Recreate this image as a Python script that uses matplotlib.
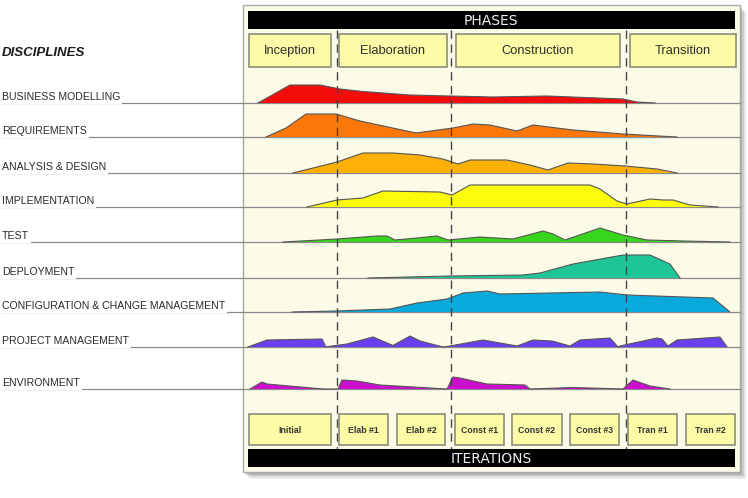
import matplotlib
matplotlib.use("Agg")
import matplotlib.pyplot as plt
from matplotlib.patches import Rectangle

plt.rcParams["font.family"] = ["Liberation Sans", "DejaVu Sans"]

# disciplines (rows) and their effort profiles: x position along the lifecycle, hump height
disciplines = [
    "BUSINESS MODELLING", "REQUIREMENTS", "ANALYSIS & DESIGN", "IMPLEMENTATION",
    "TEST", "DEPLOYMENT", "CONFIGURATION & CHANGE MANAGEMENT",
    "PROJECT MANAGEMENT", "ENVIRONMENT",
]

bm_x = [258, 290, 320, 340, 363, 410, 450, 493, 547, 623, 637, 655]
bm_h = [0, 18, 18, 14, 11.5, 8, 7, 6, 7, 4, 1, 0]

req_x = [266, 286, 306, 336, 360, 416, 453, 473, 490, 517, 533, 573, 623, 677]
req_h = [0, 9, 23, 23, 16, 4, 9, 13, 12, 6, 12, 7, 3, 0]

ad_x = [293, 337, 363, 393, 420, 443, 458, 470, 507, 530, 548, 568, 593, 625, 657, 677]
ad_h = [0, 11, 20, 20, 18, 14, 9, 13, 13, 8, 3, 10, 9, 7, 4, 0]

impl_x = [307, 337, 363, 383, 440, 452, 470, 590, 600, 617, 627, 650, 663, 673, 690, 718]
impl_h = [0, 7, 9, 16, 15, 12, 22, 22, 18, 6, 3, 8, 7, 7, 2, 0]

test_x = [283, 337, 377, 387, 395, 417, 437, 448, 480, 513, 543, 553, 565, 600, 623, 647, 683, 730]
test_h = [0, 3, 6, 6, 2, 4, 6, 2, 5, 3, 11, 8, 2, 14, 7, 2, 1, 0]

dep_x = [368, 450, 523, 540, 573, 623, 650, 670, 680]
dep_h = [0, 2, 3, 5, 14, 23, 23, 14, 0]

ccm_x = [292, 337, 390, 417, 447, 463, 487, 500, 600, 627, 713, 730]
ccm_h = [0, 1, 3, 9, 13, 19, 21, 18, 20, 17, 14, 0]

pm_x = [248, 267, 322, 326, 332, 347, 373, 393, 410, 420, 443, 450, 483, 517, 533, 552,
        570, 580, 610, 618, 620, 657, 662, 668, 677, 720, 727]
pm_h = [0, 7, 8, 0, 1, 3, 10, 1.5, 11, 6, 0, 1, 7, 1, 7, 6,
        1, 7, 9, 0, 1, 9, 8, 1, 7, 10, 0]

env_x = [250, 262, 267, 323, 338, 342, 357, 380, 447, 453, 460, 487, 525, 530, 573,
         623, 633, 650, 670]
env_h = [0, 7, 5, 0, 0, 9, 8, 4, 0, 12, 11, 5, 4, 0, 1.5, 0, 9, 3, 0]

profiles_x = [bm_x, req_x, ad_x, impl_x, test_x, dep_x, ccm_x, pm_x, env_x]
profiles_h = [bm_h, req_h, ad_h, impl_h, test_h, dep_h, ccm_h, pm_h, env_h]

phases = ["Inception", "Elaboration", "Construction", "Transition"]
iterations = ["Initial", "Elab #1", "Elab #2", "Const #1", "Const #2", "Const #3",
              "Tran #1", "Tran #2"]

# layout (pixel space of the 748x498 image)
baselines = [103, 137, 173, 207, 242, 278, 312, 347, 389]
colors = ["#f20d0d", "#fb7708", "#fdb106", "#fcfc0a", "#37d61c", "#1fc597",
          "#0aa9dc", "#6a3ff0", "#cc0fcc"]
phase_spans = [(249, 331), (339, 447), (456, 620), (630, 736)]
iter_spans = [(249, 331), (339, 388), (397, 445), (455, 504), (512, 562),
              (570, 619), (628, 677), (686, 735)]
phase_dividers = [337, 451, 626]

fig = plt.figure(figsize=(7.48, 4.98), dpi=100)
ax = fig.add_axes([0, 0, 1, 1])
ax.set_xlim(0, 748)
ax.set_ylim(498, 0)
ax.axis("off")

# panel with soft shadow
for i, a in enumerate([0.05, 0.07, 0.09, 0.12]):
    off = 7 - i * 1.5
    ax.add_patch(Rectangle((243 + off, 5 + off), 497, 467, color="black", alpha=a,
                           lw=0, zorder=0))
ax.add_patch(Rectangle((243, 5), 497, 467, facecolor="#fcfbe8", edgecolor="#a8a8a8",
                       lw=1, zorder=1))

# black header/footer bars
ax.add_patch(Rectangle((248, 11), 487, 18, facecolor="black", lw=0, zorder=2))
ax.text(491, 20.5, "PHASES", color="#f0f0f0", fontsize=10, ha="center", va="center",
        family="DejaVu Sans", zorder=3)
ax.add_patch(Rectangle((248, 449), 487, 18, facecolor="black", lw=0, zorder=2))
ax.text(491, 458.5, "ITERATIONS", color="#f0f0f0", fontsize=10, ha="center",
        va="center", family="DejaVu Sans", zorder=3)

# phase dividers
ax.vlines(phase_dividers, 30, 449, colors="#444444", linestyles=(0, (6, 4)), lw=1,
          zorder=4)

# phase boxes
for name, (x0, x1) in zip(phases, phase_spans):
    ax.add_patch(Rectangle((x0, 34), x1 - x0, 33, facecolor="#fdfca6",
                           edgecolor="#8c8c7a", lw=1.2, zorder=5))
    ax.text((x0 + x1) / 2, 51, name, fontsize=9.3, color="#2e2e2e", ha="center",
            va="center", zorder=6)

# iteration boxes
for name, (x0, x1) in zip(iterations, iter_spans):
    ax.add_patch(Rectangle((x0, 414), x1 - x0, 31, facecolor="#fdfca6",
                           edgecolor="#8c8c7a", lw=1.2, zorder=5))
    ax.text((x0 + x1) / 2, 430, name, fontsize=6.3, color="#333333", ha="center",
            va="center", weight="bold", zorder=6)

ax.text(2, 53, "DISCIPLINES", fontsize=9.5, weight="bold", style="italic",
        color="#1a1a1a", va="center")

# discipline rows
for name, base, xs, hs, col in zip(disciplines, baselines, profiles_x, profiles_h, colors):
    ax.hlines(base, 0, 741, colors="#8a8a8a", lw=0.9, zorder=2)
    ax.text(2, base - 0.8, name, fontsize=7.6, color="#2a2a2a", va="bottom",
            zorder=3, bbox=dict(boxstyle="square,pad=0.18", fc="white", ec="none"))
    top = [base - h for h in hs]
    ax.fill_between(xs, base, top, facecolor=col, edgecolor="none", zorder=3)
    ax.plot(xs, top, color="#555555", lw=0.8, zorder=3.5)

fig.savefig("out.png", dpi=100)
